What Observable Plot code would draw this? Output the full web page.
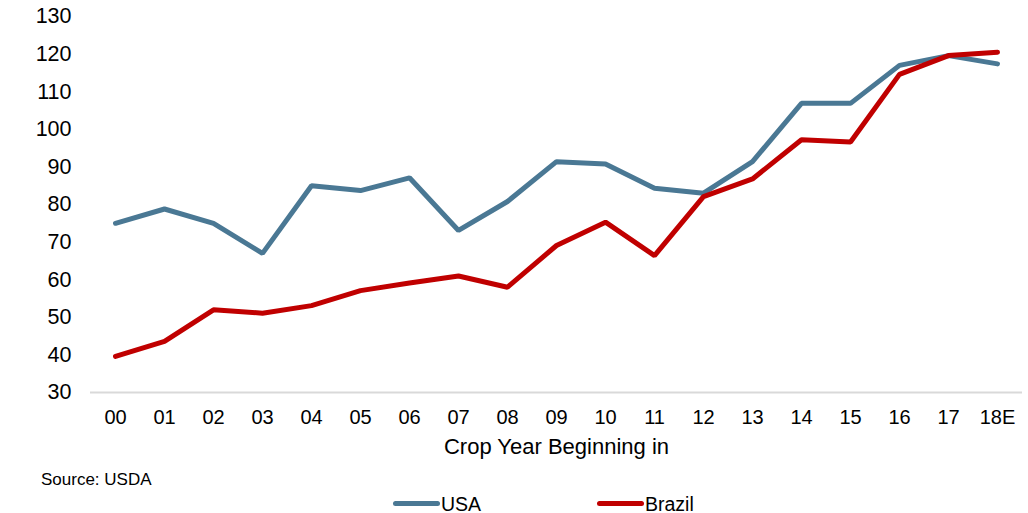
<!DOCTYPE html>
<html>
<head>
<meta charset="utf-8">
<script src="https://cdn.jsdelivr.net/npm/d3@7"></script>
<script src="https://cdn.jsdelivr.net/npm/@observablehq/plot@0.6"></script>
<style>
  body { margin: 0; background: #fff; font-family: "Liberation Sans", Arial, sans-serif; }
  #wrap { position: relative; width: 1028px; height: 513px; }
  #source { position: absolute; left: 41px; top: 470px; font-size: 17px; line-height: normal; color: #000; }
  .sw { position: absolute; top: 501px; width: 47px; height: 5px; border-radius: 3px; }
  .lt { position: absolute; top: 493px; font-size: 19.5px; line-height: normal; color: #000; }
</style>
</head>
<body>
<div id="wrap">
  <div id="chart"></div>
  <div id="source">Source: USDA</div>
  <span class="sw" style="left:393px;background:#4A7894"></span><span class="lt" style="left:441px">USA</span>
  <span class="sw" style="left:597px;background:#C00000"></span><span class="lt" style="left:645px">Brazil</span>
</div>
<script>
const years = ["00","01","02","03","04","05","06","07","08","09","10","11","12","13","14","15","16","17","18E"];
const usa = [75.0, 78.8, 75.0, 67.0, 85.0, 83.7, 87.1, 73.1, 80.8, 91.4, 90.8, 84.3, 83.0, 91.4, 106.9, 106.9, 117.0, 119.6, 117.4];
const brazil = [39.6, 43.6, 52.0, 51.1, 53.1, 57.1, 59.1, 61.0, 58.0, 69.1, 75.3, 66.4, 82.1, 86.8, 97.2, 96.6, 114.6, 119.6, 120.5];
const yTicks = [30, 40, 50, 60, 70, 80, 90, 100, 110, 120, 130];

const usaData = years.map((y, i) => ({year: y, value: usa[i]}));
const brazilData = years.map((y, i) => ({year: y, value: brazil[i]}));

const chart = Plot.plot({
  width: 1028,
  height: 465,
  marginLeft: 90,
  marginRight: 6,
  marginTop: 16,
  marginBottom: 73,
  style: { fontFamily: '"Liberation Sans", Arial, sans-serif', fontSize: "20px", color: "#000", background: "#fff" },
  x: { type: "point", domain: years, padding: 0.5, label: null },
  y: { domain: [30, 130], label: null },
  marks: [
    Plot.axisY({ ticks: yTicks, tickSize: 0, tickPadding: 19, label: null, fontSize: 21.5 }),
    Plot.axisX({ tickSize: 0, tickPadding: 17, label: null, fontSize: 20 }),
    Plot.ruleY([30], { stroke: "#d9d9d9", strokeWidth: 2 }),
    Plot.line(usaData, { x: "year", y: "value", stroke: "#4A7894", strokeWidth: 5, strokeLinejoin: "miter", strokeLinecap: "round" }),
    Plot.line(brazilData, { x: "year", y: "value", stroke: "#C00000", strokeWidth: 5, strokeLinejoin: "miter", strokeLinecap: "round" }),
    Plot.text(["Crop Year Beginning in"], { frameAnchor: "bottom", dy: 54, lineAnchor: "middle", fontSize: 22, fill: "#000" })
  ]
});
document.getElementById("chart").appendChild(chart);
</script>
</body>
</html>
